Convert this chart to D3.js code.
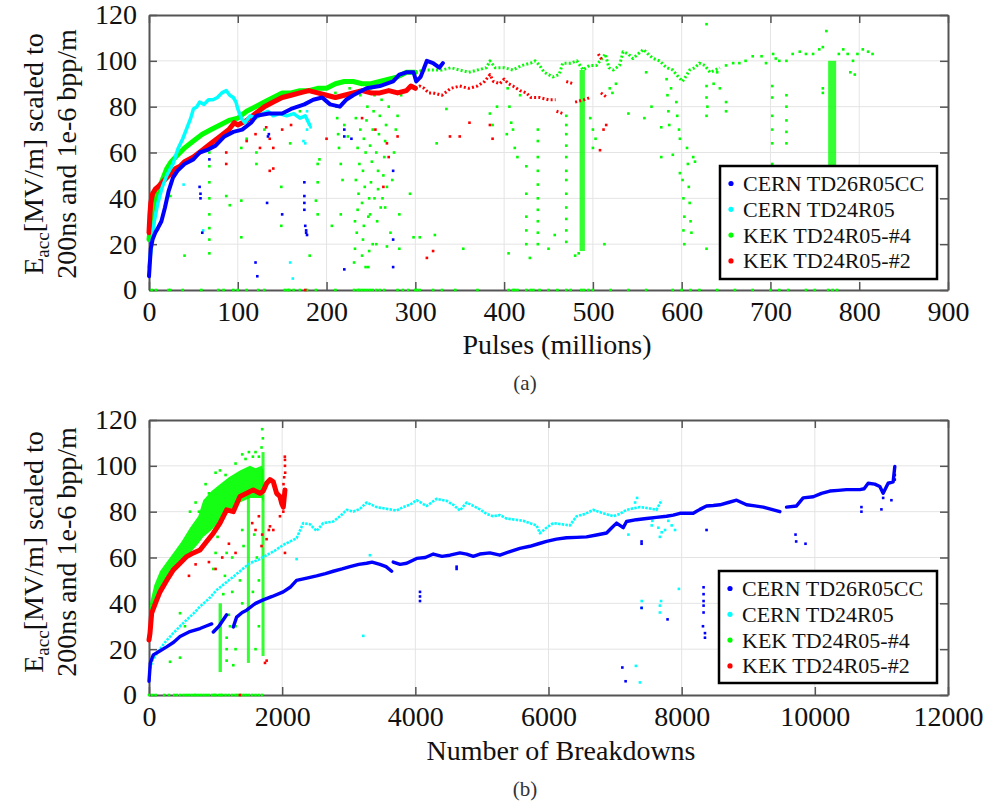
<!DOCTYPE html>
<html>
<head>
<meta charset="utf-8">
<script src="https://cdn.jsdelivr.net/npm/d3@7"></script>
<style>
  body { margin: 0; background: #fff; }
  svg text { font-family: "Liberation Serif", "Times New Roman", serif; fill: #111; }
</style>
</head>
<body>
<svg id="chart" width="994" height="803"></svg>
<script>
// ---------- shared ----------
const seriesNames = ["CERN TD26R05CC", "CERN TD24R05", "KEK TD24R05-#4", "KEK TD24R05-#2"];
const seriesColors = ["#0000ff", "#00ffff", "#00ff00", "#ff0000"];
const yTicks = [0, 20, 40, 60, 80, 100, 120];

// ---------- panel (a): pulses (millions) ----------
const xTicksA = [0, 100, 200, 300, 400, 500, 600, 700, 800, 900];

const blueA_trend = [[0,6],[1,12],[2,18],[4,22],[7,25],[10,27],[14,30],[18,36],[22,43],[27,49],[32,52],[40,55],[50,57],[57,60],[65,61],[75,63],[85,67],[95,69],[105,70],[115,73],[121,76],[135,77],[150,77],[160,79],[175,81],[185,83],[195,84],[204,81],[215,80],[222,83],[230,85],[245,88],[260,89],[275,91],[282,94],[290,95],[298,95],[301,91],[306,93],[313,100],[320,99],[327,97],[331,99]];
const blueA_pts = [[57,45],[58,42],[58,40],[68,57],[60,25],[134,67],[135,68],[133,38],[150,33],[120,12],[122,6],[175,47],[175,41],[175,38],[175,35],[176,28],[177,26],[177,25],[178,24],[220,70],[220,67],[228,66],[220,9],[275,52],[275,22],[275,10]];

const cyanA_trend = [[0,10],[3,20],[6,30],[10,38],[15,45],[20,50],[27,55],[33,62],[38,66],[42,70],[47,75],[50,79],[54,80],[57,82],[62,81],[67,83],[72,83],[77,84],[82,86],[87,87],[91,85],[95,84],[98,82],[100,79],[104,75],[108,73],[114,76],[120,75],[128,77],[134,78],[140,76],[147,77],[155,76],[163,77],[170,75],[176,76],[181,72]];
const cyanA_pts = [[61,26],[159,12],[162,5],[39,46],[174,65],[176,64],[178,70],[182,71],[178,78]];

const greenA_early = [[0,22],[2,30],[5,37],[10,43],[15,48],[20,53],[25,56],[30,58],[40,62],[50,65],[60,68],[70,70],[80,72],[90,74],[100,75],[110,78],[120,80],[130,82],[140,84],[150,86],[160,86],[170,87],[180,87],[190,88],[200,88],[210,90],[220,91],[230,91],[240,90],[250,90],[260,91],[270,92],[280,93],[290,95],[300,95]];
const greenA_late = [[300,95],[310,96],[320,96],[330,96],[340,97],[350,96],[360,95],[370,96],[380,97],[384,100],[390,97],[400,97],[410,96],[420,98],[430,99],[435,100],[440,98],[445,95],[455,93],[462,94],[466,99],[475,99],[482,100],[489,96],[496,98],[504,98],[510,101],[514,103],[518,97],[523,96],[530,98],[534,104],[540,103],[545,101],[551,103],[557,105],[562,103],[568,101],[575,100],[583,97],[590,96],[594,94],[601,91],[606,94],[609,96],[615,97],[620,99],[626,98],[632,95],[638,96],[643,97]];
const greenA_pts = [
  [24,41],[40,15],[68,60],[68,54],[68,47],[68,40],[68,33],[68,27],[68,22],[68,16],[87,41],[91,37],[104,62],[104,39],[104,23],[110,66],[121,60],[121,55],[130,70],[149,45],[149,28],[159,64],[170,78],[181,15],[188,39],[190,55],[190,47],[190,33],[192,57],
  [206,28],[210,86],[211,80],[212,75],[213,68],[214,62],[216,55],[216,33],[218,48],[220,72],[224,67],[226,88],
  [231,12],[232,18],[232,30],[233,48],[233,75],[234,25],[235,35],[235,62],[236,42],[237,55],[238,70],[238,85],[240,15],[240,38],[241,22],[241,52],[242,28],[242,66],[243,45],[244,60],[244,10],[245,74],[246,80],[247,10],[247,32],[248,17],[248,40],[249,63],[249,33],[250,47],[250,88],[251,56],[252,70],[252,20],[253,78],[254,85],[254,40],[256,20],[256,60],[257,30],[258,52],[258,44],[259,68],[260,76],[261,36],[262,83],[263,40],[264,50],[265,58],[266,65],[266,36],[267,72],[268,45],[268,19],[270,80],[272,25],[274,48],[276,60],[278,70],[280,76],[282,33],[282,18],[284,85],[294,42],[298,23],[305,23],[322,24],[324,64],[335,79],[354,18],[384,77],[387,72],[392,80],
  [403,68],[404,88],[405,16],[406,80],[408,73],[410,70],[412,62],[415,58],[418,85],[425,54],[425,42],[425,32],[425,26],[425,20],[429,14],[438,70],[438,65],[438,58],[438,52],[438,46],[438,40],[438,35],[438,30],[438,25],[438,20],[450,18],[457,24],[470,76],[470,72],[470,68],[470,63],[470,58],[470,52],[470,48],[470,42],[470,36],[470,31],[470,26],[470,21],[480,15],[484,16],
  [497,75],[500,70],[500,62],[503,66],[513,20],[519,88],[522,86],[526,90],[540,77],[558,75],[560,95],[566,80],[577,58],[577,71],[583,92],[584,85],[585,78],[586,72],[588,88],[590,59],[594,82],[595,76],[597,70],[598,66],[598,51],[601,48],[602,40],[603,32],[602,26],[603,20],[606,62],[607,55],[608,45],[609,38],[610,30],[611,25],[613,58],[615,56],[628,18],[628,89],[628,84],[629,80],[628,76],[636,90],[640,95],[643,88],[650,82],[650,78],[628,116],
  [650,98],[658,99],[665,99],[672,100],[680,102],[690,102],[695,99],[703,103],[706,101],[710,100],[718,100],[725,103],[733,104],[740,103],[748,103],[755,105],[759,106],[763,113],[777,103],[782,105],[787,103],[793,100],[798,103],[804,105],[810,104],[815,103],[790,95],[795,94],[759,88],[759,86],
  [702,89],[702,84],[702,76],[702,70],[702,64],[702,55],[718,85],[718,80],[718,74],[718,69],[718,64]
];
const greenA_streaks = [[485, 491, 17, 96], [765, 774, 50, 100]];
const greenA_zero = [3,8,22,24,38,59,78,84,95,100,110,123,130,153,156,158,163,170,178,188,210,231,235,237,240,243,246,249,252,256,260,265,280,286,292,300,302,305,320,330,345,370,405,410,412,415,425,430,433,440,450,460,470,475,487,490,495,500,520,540,560,590,600,610,620,640,660,680,700,710,720,740,750,765,770,775];

const redA_early = [[0,25],[1,33],[2,38],[4,42],[7,44],[10,45],[15,47],[20,49],[25,51],[30,53],[35,54],[40,56],[50,58],[60,61],[70,64],[80,67],[90,70],[96,73],[100,72],[110,74],[120,77],[130,80],[140,82],[150,84],[160,85],[170,86],[180,87],[190,86],[200,85],[210,84],[220,85],[230,86],[240,87],[250,86],[260,86],[270,87],[280,86],[290,87],[295,89],[300,88]];
const redA_late = [[300,88],[305,89],[310,88],[315,86],[320,86],[330,85],[340,88],[350,89],[360,88],[370,89],[378,91],[384,94],[388,91],[395,90],[400,92],[405,90],[410,89],[418,87],[425,86],[430,84],[440,84],[450,83],[458,83],null,[459,78],[466,77],null,[470,91],[478,90],null,[480,82],[490,83],[497,84],null,[506,103],[511,100],null,[509,86],[516,84]];
const redA_pts = [[87,55],[87,60],[110,65],[120,68],[125,62],[132,71],[136,66],[136,52],[140,53],[140,62],[150,70],[160,72],[200,66],[240,75],[255,70],[264,45],[268,64],[270,58],[280,67],[313,14],[320,17],[339,67],[350,67],[361,73],[384,72],[387,66],[508,61],[512,70],[515,72]];
const redA_zero = [176];

// ---------- panel (b): number of breakdowns ----------
const xTicksB = [0, 2000, 4000, 6000, 8000, 10000, 12000];

const blueB_trend = [[0,6],[20,14],[65,17.5],[150,19],[265,21],[370,23],[466,25.5],[600,27.5],[766,29],[850,30],[941,31],null,[966,27.5],[1050,30],[1166,35],null,[1266,29.7],[1316,34],[1400,36],[1466,37],[1600,40],[1716,41.5],[1850,43],[2016,45],[2120,47],[2216,50],[2370,51],[2517,52],[2650,53],[2767,54],[2900,55],[3018,56],[3150,57],[3268,57.5],[3350,58],[3468,57],[3560,56],[3644,54],null,[3668,58],[3770,57],[3870,57.5],[4020,59.6],[4150,60],[4270,61.5],[4400,60.5],[4520,61],[4670,62],[4770,61.5],[4870,60.5],[4970,61.5],[5120,62],[5270,61],[5420,62.6],[5570,64],[5720,64.9],[5850,66],[5971,67],[6120,68],[6271,68.6],[6420,68.8],[6571,69],[6720,69.8],[6872,70.7],[6950,73],[7022,75],[7122,73],[7172,75.7],[7320,76.5],[7473,77],[7620,77.5],[7773,78],[7874,78.5],[7974,79.3],[8074,79.3],[8174,79.3],[8274,81],[8374,82.5],[8475,82.7],[8575,83],[8700,84],[8825,85],[8975,83],[9100,82.5],[9225,82],[9350,81],[9475,80],null,[9575,82],[9725,82.5],[9825,86],[9976,86.5],[10100,88],[10226,89],[10350,89.3],[10476,89.6],[10600,89.6],[10676,89.6],[10740,90],[10801,92.4],[10900,92],[10976,91],[11026,88],[11101,92.4],[11176,93],[11201,99.7]];
const blueB_pts = [[4070,45],[4070,43],[4070,41],[4620,56],[4620,55],[7398,67],[7398,66],[7398,38],[7788,33],[7109,12],[7158,6],[8329,47],[8329,44],[8329,41],[8329,39],[8329,36],[8320,30],[8350,27],[8350,25],[8374,72],[9710,70],[9720,67],[9860,66],[10700,82],[10700,80],[11000,81],[11150,85],[11026,86],[11201,96],[11201,94]];

const cyanB_trend = [[0,10],[50,15],[116,18],[240,23],[365,27],[466,30],[566,32.8],[666,35.5],[766,38.6],[900,42],[1016,45.8],[1140,48.7],[1266,51.6],[1390,54.6],[1516,57.5],[1640,59],[1767,61],[1890,63],[2017,65.5],[2120,67],[2217,68.4],[2270,72],[2317,75],[2417,74.5],[2517,71.6],[2617,75],[2767,75.7],[2870,78],[2968,80.8],[3068,80],[3168,81.2],[3268,84],[3418,82],[3518,81.5],[3618,81],[3718,80.5],[3818,82],[3918,83],[4020,85],[4170,82.5],[4320,85.6],[4470,84.7],[4570,83],[4670,80.5],[4770,84],[4870,82.5],[4970,81],[5070,79],[5170,78],[5270,78.5],[5370,77],[5500,76.5],[5620,76],[5720,75],[5821,74],[5871,70.6],[5970,73],[6071,75],[6200,74.5],[6321,74],[6421,78],[6550,79],[6671,80.8],[6800,79.5],[6972,78],[7072,79],[7172,80.8],[7280,81.5],[7373,82],[7500,81.5],[7623,80.8],[7698,85]];
const cyanB_pts = [[2217,59.3],[3218,25.8],[3318,61],[7400,38],[7400,41],[7673,36],[7673,39],[7690,41],[7958,46.3],[7313,12.7],[7373,5.5],[7650,73],[7673,69],[7700,71],[7750,72],[7850,74],[7900,72],[7800,76],[7550,74],[7560,76],[7300,84],[7330,86],[7200,70]];

const greenB_x    = [0, 15, 80, 165, 265, 365, 490, 616, 740, 815, 940, 1066, 1200, 1366, 1516, 1600, 1692, 1720];
const greenB_high = [20, 40, 48, 54, 58, 62, 67, 73, 78, 85, 89, 92, 95, 98, 100, 99, 100, 98];
const greenB_low  = [18, 32, 38, 44, 50, 54, 58, 62, 66, 69, 72, 76, 80, 84, 86, 86, 86, 84];
const greenB_pts = [[316,14.5],[466,16.3],[466,35.7],[540,30],[616,80],[700,84],[750,80],[850,92],[900,88],[1000,97],[1066,98],[1150,96],[1300,101],[1400,105],[1450,103],[1500,106],[1560,104],[1600,106],[1650,104],[1690,108],[1700,116],[1710,112],
  [966,55],[1000,62],[1030,69],[1116,44],[1140,52],[1166,62],[1166,15],[1166,20],[1166,25],[1200,35],[1216,30],[1250,45],[1250,60],[1266,13],[1300,30],[1300,20],[1366,50],[1400,40],[1420,65],[1600,20],[1620,40],[1620,60],[1650,30],[1650,50],[1580,70],[1560,45],[1400,72]];
const greenB_streaks = [[1045, 1095, 10, 40], [1470, 1515, 14, 88], [1690, 1715, 17, 106]];
const greenB_zero = [0,50,100,230,300,380,420,470,520,560,600,640,680,700,740,780,820,860,900,950,980,1000,1050,1080,1100,1150,1200,1250,1300,1330,1380,1420,1460,1500,1550,1600,1650,1700];

const redB_trend = [[0,24],[15,27],[40,35.7],[70,38],[116,41.5],[165,45],[265,50],[365,54.6],[466,57.5],[566,60.4],[666,62],[766,63.3],[866,67],[966,70.6],[1066,75],[1166,80.8],[1266,80],[1366,86.6],[1466,88],[1566,89.5],[1666,88],[1716,89],[1767,92.4],[1817,94],[1867,93],[1917,88],[1967,86.6],[1992,83.7],[2017,82],[2042,89.5]];
const redB_pts = [[1742,14],[1767,15],[1690,65],[1700,70],[1817,73.6],[1867,72],[1967,78],[2017,80],[2042,62],[2042,102.6],[2042,100],[2045,97],[2040,104],[1300,62],[1200,66],[1100,60],[900,58],[1000,55],[1550,75],[1600,72],[1650,78],[600,52],[700,57],[1766,68],[1800,72],[2030,95],[2020,92]];
const redB_zero = [1366];

// ---------- drawing ----------
const svg = d3.select("#chart");
const X0 = 149, X1 = 948;

const panels = [
  {
    top: 15, bottom: 290, xMax: 900, xTicks: xTicksA,
    xLabel: "Pulses (millions)", xLabelX: 557, xLabelY: 354,
    caption: "(a)", captionY: 390, yLabelCY: 154,
    legend: { x: 720, y: 166, w: 217, h: 113 },
    layers: [
      { c: 2, pts: greenA_pts, streaks: greenA_streaks, zero: greenA_zero,
        trends: [{ d: greenA_early, w: 5 }, { d: greenA_late, w: 3, dash: "2,2.2" }] },
      { c: 3, pts: redA_pts, zero: redA_zero,
        trends: [{ d: redA_early, w: 5 }, { d: redA_late, w: 3, dash: "2,2.2" }] },
      { c: 1, pts: cyanA_pts, trends: [{ d: cyanA_trend, w: 3.5 }] },
      { c: 0, pts: blueA_pts, trends: [{ d: blueA_trend, w: 4 }] }
    ]
  },
  {
    top: 420, bottom: 695, xMax: 12000, xTicks: xTicksB,
    xLabel: "Number of Breakdowns", xLabelX: 561, xLabelY: 760,
    caption: "(b)", captionY: 796, yLabelCY: 552,
    legend: { x: 719, y: 571, w: 218, h: 112 },
    layers: [
      { c: 2, band: true, pts: greenB_pts, streaks: greenB_streaks, zero: greenB_zero },
      { c: 3, pts: redB_pts, zero: redB_zero, trends: [{ d: redB_trend, w: 5 }] },
      { c: 1, pts: cyanB_pts, trends: [{ d: cyanB_trend, w: 2.6, dash: "2.5,1.2" }] },
      { c: 0, pts: blueB_pts, trends: [{ d: blueB_trend, w: 3.4 }] }
    ]
  }
];

function drawPanel(p) {
  const x = d3.scaleLinear().domain([0, p.xMax]).range([X0, X1]);
  const y = d3.scaleLinear().domain([0, 120]).range([p.bottom, p.top]);
  const g = svg.append("g");

  // grid
  g.selectAll(".gx").data(p.xTicks.slice(1, -1)).join("line")
    .attr("x1", d => x(d)).attr("x2", d => x(d))
    .attr("y1", p.top).attr("y2", p.bottom)
    .attr("stroke", "#e4e4e4").attr("stroke-width", 1);
  g.selectAll(".gy").data(yTicks.slice(1, -1)).join("line")
    .attr("x1", X0).attr("x2", X1)
    .attr("y1", d => y(d)).attr("y2", d => y(d))
    .attr("stroke", "#e4e4e4").attr("stroke-width", 1);

  // axes (ticks inside, box on all sides)
  const fmt = d3.format("d");
  const styleAxis = sel => {
    sel.select(".domain").attr("stroke", "#555").attr("stroke-width", 2);
    sel.selectAll(".tick line").attr("stroke", "#555").attr("stroke-width", 1.5);
    sel.selectAll(".tick text").attr("font-size", 28).attr("fill", "#111")
      .style("font-family", '"Liberation Serif", "Times New Roman", serif');
  };
  g.append("g").attr("transform", `translate(0,${p.bottom})`)
    .call(d3.axisBottom(x).tickValues(p.xTicks).tickSizeInner(-8).tickSizeOuter(0).tickPadding(11).tickFormat(fmt))
    .call(styleAxis);
  g.append("g").attr("transform", `translate(0,${p.top})`)
    .call(d3.axisTop(x).tickValues(p.xTicks).tickSizeInner(-8).tickSizeOuter(0).tickFormat(() => ""))
    .call(styleAxis);
  g.append("g").attr("transform", `translate(${X0},0)`)
    .call(d3.axisLeft(y).tickValues(yTicks).tickSizeInner(-8).tickSizeOuter(0).tickPadding(12).tickFormat(fmt))
    .call(styleAxis);
  g.append("g").attr("transform", `translate(${X1},0)`)
    .call(d3.axisRight(y).tickValues(yTicks).tickSizeInner(-8).tickSizeOuter(0).tickFormat(() => ""))
    .call(styleAxis);

  // data
  const line = d3.line().defined(d => d !== null).x(d => x(d[0])).y(d => y(d[1]));
  const dot = 2.6;
  p.layers.forEach(L => {
    const col = seriesColors[L.c];
    const lg = g.append("g");
    if (L.band) {
      const area = d3.area().x((d, i) => x(greenB_x[i])).y0(d => y(d[0])).y1(d => y(d[1]));
      lg.append("path").datum(greenB_low.map((v, i) => [v, greenB_high[i]]))
        .attr("d", area).attr("fill", col).attr("opacity", 0.92);
    }
    if (L.streaks) {
      lg.selectAll(".st").data(L.streaks).join("rect")
        .attr("x", d => x(d[0])).attr("width", d => Math.max(3, x(d[1]) - x(d[0])))
        .attr("y", d => y(d[3])).attr("height", d => y(d[2]) - y(d[3]))
        .attr("fill", col).attr("opacity", 0.8);
    }
    if (L.zero) {
      lg.selectAll(".z").data(L.zero).join("rect")
        .attr("x", d => x(d) - dot / 2).attr("y", y(0) - dot / 2)
        .attr("width", dot).attr("height", dot).attr("fill", col);
    }
    if (L.pts) {
      lg.selectAll(".p").data(L.pts).join("rect")
        .attr("x", d => x(d[0]) - dot / 2).attr("y", d => y(d[1]) - dot / 2)
        .attr("width", dot).attr("height", dot).attr("fill", col);
    }
    (L.trends || []).forEach(t => {
      lg.append("path").datum(t.d).attr("d", line)
        .attr("fill", "none").attr("stroke", col).attr("stroke-width", t.w)
        .attr("stroke-dasharray", t.dash || null)
        .attr("stroke-linejoin", "round").attr("stroke-linecap", t.dash ? "butt" : "round");
    });
  });

  // labels
  g.append("text").attr("x", p.xLabelX).attr("y", p.xLabelY)
    .attr("text-anchor", "middle").attr("font-size", 28).text(p.xLabel);
  g.append("text").attr("x", 525).attr("y", p.captionY)
    .attr("text-anchor", "middle").attr("font-size", 21).style("fill", "#333").text(p.caption);

  const yl = g.append("text").attr("transform", `translate(43,${p.yLabelCY}) rotate(-90)`)
    .attr("text-anchor", "middle").attr("font-size", 28);
  yl.append("tspan").text("E");
  yl.append("tspan").attr("font-size", 19).attr("dy", 6).text("acc");
  yl.append("tspan").attr("dy", -6).text("[MV/m] scaled to");
  g.append("text").attr("transform", `translate(76,${p.yLabelCY}) rotate(-90)`)
    .attr("text-anchor", "middle").attr("font-size", 28).text("200ns and 1e-6 bpp/m");

  // legend
  const lgd = g.append("g").attr("transform", `translate(${p.legend.x},${p.legend.y})`);
  lgd.append("rect").attr("width", p.legend.w).attr("height", p.legend.h)
    .attr("fill", "#fff").attr("stroke", "#000").attr("stroke-width", 2.5);
  seriesNames.forEach((name, i) => {
    const cy = 17.5 + i * 25.8;
    lgd.append("circle").attr("cx", 11).attr("cy", cy).attr("r", 2.6).attr("fill", seriesColors[i]);
    lgd.append("text").attr("x", 23).attr("y", cy + 7.5).attr("font-size", 22).text(name);
  });
}

panels.forEach(drawPanel);
</script>
</body>
</html>
